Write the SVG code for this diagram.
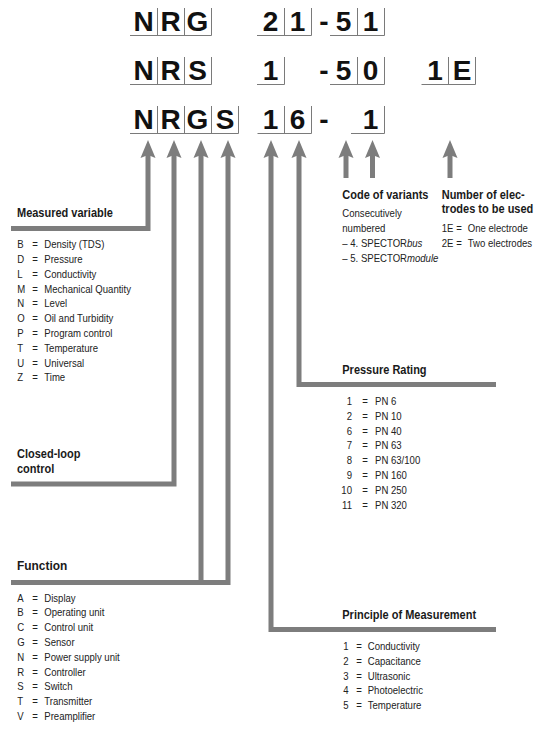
<svg xmlns="http://www.w3.org/2000/svg" width="555" height="752" viewBox="0 0 555 752">
<style>
.code{font-family:"Liberation Sans",Arial,sans-serif;font-weight:bold;font-size:28px;fill:#111;text-anchor:middle}
.box{fill:none;stroke:#7a7a7a;stroke-width:1}
.h{font-family:"Liberation Sans",Arial,sans-serif;font-weight:bold;font-size:12px;fill:#1a1a1a}
.t{font-family:"Liberation Sans",Arial,sans-serif;font-size:10.2px;fill:#222}
.m{text-anchor:middle}
.e{text-anchor:end}
.conn{fill:none;stroke:#7d7d7d;stroke-width:5;stroke-linecap:butt;stroke-linejoin:miter}
.arr{marker-start:url(#head)}
</style>
<defs>
<marker id="head" markerUnits="userSpaceOnUse" markerWidth="20" markerHeight="16" viewBox="0 -8 20 16" refX="3" refY="0" orient="auto-start-reverse" overflow="visible">
<path d="M18,0 L0,-7.5 L3,0 L0,7.5 Z" fill="#7d7d7d"/>
</marker>
</defs>

<g id="row1">
<path class="box" d="M130,35.5H211.5M157.5,8V35.5M184.5,8V35.5M211.5,8V35.5M257,35.5H311.5M284.5,8V35.5M311.5,8V35.5M330,35.5H384.5M357.5,8V35.5M384.5,8V35.5"/>
<text class="code" x="143.5" y="31">N</text>
<text class="code" x="170.5" y="31">R</text>
<text class="code" x="197.5" y="31">G</text>
<text class="code" x="270.5" y="31">2</text>
<text class="code" x="297.5" y="31">1</text>
<text class="code" x="324" y="31">-</text>
<text class="code" x="343.5" y="31">5</text>
<text class="code" x="370.5" y="31">1</text>
</g>

<g id="row2">
<path class="box" d="M130,84.5H211.5M157.5,57V84.5M184.5,57V84.5M211.5,57V84.5M257,84.5H284.5M284.5,57V84.5M330,84.5H384.5M357.5,57V84.5M384.5,57V84.5M421.5,84.5H475.5M448.5,57V84.5M475.5,57V84.5"/>
<text class="code" x="143.5" y="80">N</text>
<text class="code" x="170.5" y="80">R</text>
<text class="code" x="197.5" y="80">S</text>
<text class="code" x="270.5" y="80">1</text>
<text class="code" x="324" y="80">-</text>
<text class="code" x="343.5" y="80">5</text>
<text class="code" x="370.5" y="80">0</text>
<text class="code" x="435" y="80">1</text>
<text class="code" x="462" y="80">E</text>
</g>

<g id="row3">
<path class="box" d="M130,133.5H238.5M157.5,106V133.5M184.5,106V133.5M211.5,106V133.5M238.5,106V133.5M257.5,133.5H311.5M284.5,106V133.5M311.5,106V133.5M351,133.5H384.5M384.5,106V133.5"/>
<text class="code" x="143.5" y="129">N</text>
<text class="code" x="170.5" y="129">R</text>
<text class="code" x="197.5" y="129">G</text>
<text class="code" x="225" y="129">S</text>
<text class="code" x="270.5" y="129">1</text>
<text class="code" x="297.5" y="129">6</text>
<text class="code" x="324" y="129">-</text>
<text class="code" x="370.5" y="129">1</text>
</g>

<g id="connectors">
<path class="conn arr" d="M148,155 V228.5 H11"/>
<path class="conn arr" d="M174,155 V484 H11"/>
<path class="conn arr" d="M201,155 V582.5"/>
<path class="conn arr" d="M228,155 V582.5 H11"/>
<path class="conn arr" d="M271,155 V629.5 H496"/>
<path class="conn arr" d="M299,155 V384.5 H496"/>
<path class="conn arr" d="M346,155 V178"/>
<path class="conn arr" d="M372.5,155 V178"/>
<path class="conn arr" d="M450,155 V178"/>
</g>

<g id="measured-variable">
<text class="h" x="17" y="217.5" transform="matrix(0.917,0,0,1,1.411,0)">Measured variable</text>
<g class="t" transform="matrix(0.94,0,0,1,1.038,0)">
<text x="17.3" y="248.3">B</text><text class="m" x="36.1" y="248.3">=</text><text x="46" y="248.3">Density (TDS)</text>
<text x="17.3" y="263.1">D</text><text class="m" x="36.1" y="263.1">=</text><text x="46" y="263.1">Pressure</text>
<text x="17.3" y="277.9">L</text><text class="m" x="36.1" y="277.9">=</text><text x="46" y="277.9">Conductivity</text>
<text x="17.3" y="292.7">M</text><text class="m" x="36.1" y="292.7">=</text><text x="46" y="292.7">Mechanical Quantity</text>
<text x="17.3" y="307.5">N</text><text class="m" x="36.1" y="307.5">=</text><text x="46" y="307.5">Level</text>
<text x="17.3" y="322.3">O</text><text class="m" x="36.1" y="322.3">=</text><text x="46" y="322.3">Oil and Turbidity</text>
<text x="17.3" y="337.1">P</text><text class="m" x="36.1" y="337.1">=</text><text x="46" y="337.1">Program control</text>
<text x="17.3" y="351.9">T</text><text class="m" x="36.1" y="351.9">=</text><text x="46" y="351.9">Temperature</text>
<text x="17.3" y="366.7">U</text><text class="m" x="36.1" y="366.7">=</text><text x="46" y="366.7">Universal</text>
<text x="17.3" y="381.5">Z</text><text class="m" x="36.1" y="381.5">=</text><text x="46" y="381.5">Time</text>
</g>
</g>

<g id="closed-loop-control">
<text class="h" x="17" y="458.5" transform="matrix(0.917,0,0,1,1.411,0)">Closed-loop</text>
<text class="h" x="17" y="473.5" transform="matrix(0.917,0,0,1,1.411,0)">control</text>
</g>

<g id="function">
<text class="h" x="17" y="570" style="font-size:13px" transform="matrix(0.917,0,0,1,1.411,0)">Function</text>
<g class="t" transform="matrix(0.94,0,0,1,1.038,0)">
<text x="17.3" y="601.7">A</text><text class="m" x="36.1" y="601.7">=</text><text x="46" y="601.7">Display</text>
<text x="17.3" y="616.5">B</text><text class="m" x="36.1" y="616.5">=</text><text x="46" y="616.5">Operating unit</text>
<text x="17.3" y="631.3">C</text><text class="m" x="36.1" y="631.3">=</text><text x="46" y="631.3">Control unit</text>
<text x="17.3" y="646.1">G</text><text class="m" x="36.1" y="646.1">=</text><text x="46" y="646.1">Sensor</text>
<text x="17.3" y="660.9">N</text><text class="m" x="36.1" y="660.9">=</text><text x="46" y="660.9">Power supply unit</text>
<text x="17.3" y="675.7">R</text><text class="m" x="36.1" y="675.7">=</text><text x="46" y="675.7">Controller</text>
<text x="17.3" y="690.5">S</text><text class="m" x="36.1" y="690.5">=</text><text x="46" y="690.5">Switch</text>
<text x="17.3" y="705.3">T</text><text class="m" x="36.1" y="705.3">=</text><text x="46" y="705.3">Transmitter</text>
<text x="17.3" y="720.1">V</text><text class="m" x="36.1" y="720.1">=</text><text x="46" y="720.1">Preamplifier</text>
</g>
</g>

<g id="code-of-variants">
<text class="h" x="342.3" y="199.3" transform="matrix(0.917,0,0,1,28.41,0)">Code of variants</text>
<g class="t" transform="matrix(0.94,0,0,1,20.538,0)">
<text x="342.3" y="217.3">Consecutively</text>
<text x="342.3" y="232.3">numbered</text>
<text x="342.3" y="247.3">– 4. SPECTOR<tspan font-style="italic">bus</tspan></text>
<text x="342.3" y="262.3">– 5. SPECTOR<tspan font-style="italic">module</tspan></text>
</g>
</g>

<g id="number-of-electrodes">
<text class="h" x="441.7" y="199.3" transform="matrix(0.917,0,0,1,36.66,0)">Number of elec-</text>
<text class="h" x="441.7" y="213.5" transform="matrix(0.917,0,0,1,36.66,0)">trodes to be used</text>
<g class="t" transform="matrix(0.94,0,0,1,26.502,0)">
<text x="441.7" y="232.3">1E</text><text class="m" x="460.1" y="232.3">=</text><text x="469.4" y="232.3">One electrode</text>
<text x="441.7" y="247.3">2E</text><text class="m" x="460.1" y="247.3">=</text><text x="469.4" y="247.3">Two electrodes</text>
</g>
</g>

<g id="pressure-rating">
<text class="h" x="342.3" y="374" transform="matrix(0.917,0,0,1,28.41,0)">Pressure Rating</text>
<g class="t" transform="matrix(0.94,0,0,1,20.538,0)">
<text class="e" x="352.6" y="405">1</text><text class="m" x="366.4" y="405">=</text><text x="377.1" y="405">PN 6</text>
<text class="e" x="352.6" y="419.8">2</text><text class="m" x="366.4" y="419.8">=</text><text x="377.1" y="419.8">PN 10</text>
<text class="e" x="352.6" y="434.6">6</text><text class="m" x="366.4" y="434.6">=</text><text x="377.1" y="434.6">PN 40</text>
<text class="e" x="352.6" y="449.4">7</text><text class="m" x="366.4" y="449.4">=</text><text x="377.1" y="449.4">PN 63</text>
<text class="e" x="352.6" y="464.2">8</text><text class="m" x="366.4" y="464.2">=</text><text x="377.1" y="464.2">PN 63/100</text>
<text class="e" x="352.6" y="479">9</text><text class="m" x="366.4" y="479">=</text><text x="377.1" y="479">PN 160</text>
<text class="e" x="352.6" y="493.8">10</text><text class="m" x="366.4" y="493.8">=</text><text x="377.1" y="493.8">PN 250</text>
<text class="e" x="352.6" y="508.6">11</text><text class="m" x="366.4" y="508.6">=</text><text x="377.1" y="508.6">PN 320</text>
</g>
</g>

<g id="principle-of-measurement">
<text class="h" x="342.3" y="619.3" transform="matrix(0.917,0,0,1,28.41,0)">Principle of Measurement</text>
<g class="t" transform="matrix(0.94,0,0,1,20.598,0)">
<text x="343.3" y="650">1</text><text class="m" x="360" y="650">=</text><text x="369.3" y="650">Conductivity</text>
<text x="343.3" y="664.8">2</text><text class="m" x="360" y="664.8">=</text><text x="369.3" y="664.8">Capacitance</text>
<text x="343.3" y="679.6">3</text><text class="m" x="360" y="679.6">=</text><text x="369.3" y="679.6">Ultrasonic</text>
<text x="343.3" y="694.4">4</text><text class="m" x="360" y="694.4">=</text><text x="369.3" y="694.4">Photoelectric</text>
<text x="343.3" y="709.2">5</text><text class="m" x="360" y="709.2">=</text><text x="369.3" y="709.2">Temperature</text>
</g>
</g>
</svg>
